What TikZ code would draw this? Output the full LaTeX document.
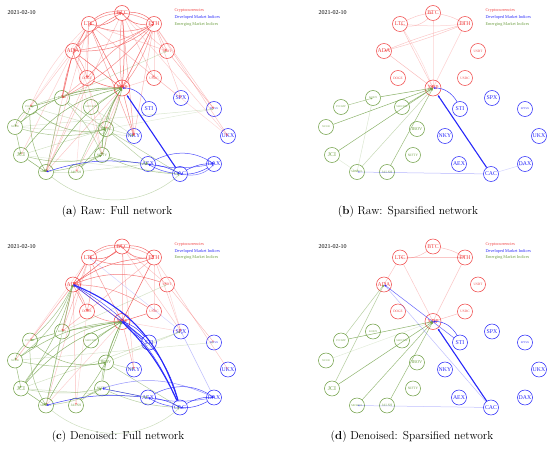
\documentclass[tikz,border=0pt]{standalone}
\usepackage{fontspec}
\newfontfamily\labf{Liberation Serif}
\usetikzlibrary{arrows.meta}
\definecolor{cred}{RGB}{240,70,70}
\definecolor{cblue}{RGB}{40,40,250}
\definecolor{cgreen}{RGB}{112,160,70}
\tikzset{
 nd/.style={circle,draw,minimum size=15pt,inner sep=0pt,line width=0.55pt},
 cr/.style={nd,draw=cred,text=cred},
 dm/.style={nd,draw=cblue,text=cblue},
 em/.style={nd,draw=cgreen,text=cgreen},
 fA/.style={font=\labf\fontsize{5.8}{6}\selectfont},
 fB/.style={font=\labf\fontsize{4.4}{5}\selectfont},
 fC/.style={font=\labf\fontsize{3.4}{4}\selectfont},
 fD/.style={font=\labf\fontsize{2.7}{3}\selectfont},
 ebase/.style={-{Latex[length=2.4pt,width=2.2pt]},line width=0.5pt},
 er/.style={ebase,color=cred,opacity=#1},
 eg/.style={ebase,color=cgreen,opacity=#1},
 eb/.style={ebase,color=cblue,opacity=#1},
 heavy/.style={line width=1.1pt},
 legend/.style={anchor=west,font=\labf\fontsize{4.3}{5}\selectfont},
 caption/.style={font=\fontsize{11.5}{13}\selectfont},
}
\newcommand\mknodes{%
\node[cr,fA] (BTC) at (122,13) {BTC};
\node[cr,fA] (LTC) at (89,24) {LTC};
\node[cr,fA] (ETH) at (154,24) {ETH};
\node[cr,fA] (ADA) at (73,51) {ADA};
\node[cr,fC] (USDT) at (167,51) {USDT};
\node[cr,fC] (DOGE) at (87,78) {DOGE};
\node[cr,fC] (USDC) at (154,78) {USDC};
\node[cr,fA,minimum size=16pt] (XRP) at (122,88) {XRP};
\node[dm,fA] (SPX) at (181,98) {SPX};
\node[dm,fA] (STI) at (149,109) {STI};
\node[dm,fD] (SPTSX) at (214,109) {SPTSX};
\node[dm,fA] (NKY) at (134,136) {NKY};
\node[dm,fA] (UKX) at (228,136) {UKX};
\node[dm,fA] (AEX) at (148,164) {AEX};
\node[dm,fA] (DAX) at (214,164) {DAX};
\node[dm,fA] (CAC) at (180,174) {CAC};
\node[em,fD] (KOSPI) at (62,98) {KOSPI};
\node[em,fD] (PCOMP) at (30,107) {PCOMP};
\node[em,fD] (SHCOMP) at (91,107) {SHCOMP};
\node[em,fD] (XU100) at (15,127) {XU100};
\node[em,fB] (IBOV) at (106,129) {IBOV};
\node[em,fA] (JCI) at (21,155) {JCI};
\node[em,fC] (NIFTY) at (102,155) {NIFTY};
\node[em,fD] (MEXBOL) at (46,172) {MEXBOL};
\node[em,fC] (JALSH) at (76,172) {JALSH};
\node[anchor=west,font=\labf\fontsize{6}{7}\selectfont] (date) at (4,13) {2021-02-10};
\node[legend,text=cred] (lg1) at (171,11) {Cryptocurrencies};
\node[legend,text=cblue] (lg2) at (171,17.5) {Developed Market Indices};
\node[legend,text=cgreen] (lg3) at (171,24) {Emerging Market Indices};
}
\begin{document}
\begin{tikzpicture}[x=1pt,y=-1pt]
\useasboundingbox (0,0) rectangle (550,458);
%%%%%%%%%%%%%%%% (a)
\begin{scope}[name prefix=a-]
\mknodes
\foreach \s/\t/\b/\o in {BTC/LTC/25/.8, LTC/BTC/25/.8, BTC/ETH/25/.8, ETH/BTC/25/.8, LTC/ETH/-20/.7, ETH/LTC/-30/.6,
 LTC/ADA/0/.5, ADA/BTC/10/.7, ADA/ETH/-20/.7, ETH/ADA/10/.6, ADA/LTC/-20/.5, DOGE/ADA/10/.6, ADA/DOGE/10/.5,
 ADA/XRP/0/.8, DOGE/XRP/-10/.8, LTC/XRP/0/.8, BTC/XRP/5/.9, BTC/XRP/-5/.6, ETH/XRP/0/.8, ETH/XRP/10/.6,
 LTC/DOGE/0/.5, ETH/DOGE/-10/.6, ADA/KOSPI/0/.8, LTC/KOSPI/-10/.7, ETH/KOSPI/10/.6, DOGE/KOSPI/0/.5,
 LTC/NKY/0/.5, BTC/NKY/0/.5, XRP/NKY/0/.6, ETH/NKY/0/.35,
 ADA/PCOMP/0/.3, LTC/PCOMP/-10/.25, LTC/XU100/0/.15, ADA/JCI/0/.25, LTC/MEXBOL/0/.3, BTC/MEXBOL/0/.3, XRP/MEXBOL/0/.3, DOGE/MEXBOL/0/.3, ADA/MEXBOL/0/.25,
 USDT/SPTSX/0/.4, ETH/SPTSX/0/.3, ETH/UKX/0/.3, BTC/UKX/0/.25, LTC/UKX/0/.2, ETH/USDT/0/.4, BTC/USDT/0/.3, LTC/USDT/0/.3, BTC/USDC/0/.3, ETH/USDC/0/.3,
 XRP/IBOV/0/.3, XRP/NIFTY/0/.3, XRP/JALSH/0/.3, ETH/SPX/0/.3, LTC/SPX/0/.2, DOGE/NIFTY/0/.25, ADA/NIFTY/0/.2, ADA/IBOV/0/.2, USDC/XRP/0/.3, LTC/JALSH/0/.2}
 {\draw[er=\o] (\s) to[bend left=\b] (\t);}
\foreach \s/\t/\b/\o in {KOSPI/XRP/5/.8, SHCOMP/XRP/0/.5, PCOMP/XRP/10/.4, XU100/XRP/20/.8, JCI/XRP/20/.8, MEXBOL/XRP/15/.8, NIFTY/XRP/15/.8, IBOV/XRP/10/.7, JALSH/XRP/-15/.7, JALSH/XRP/5/.5,
 KOSPI/PCOMP/0/.8, PCOMP/XU100/-15/.7, XU100/PCOMP/-15/.6, XU100/JCI/0/.7, JCI/MEXBOL/0/.8, PCOMP/MEXBOL/-15/.7, KOSPI/MEXBOL/0/.6, PCOMP/IBOV/-25/.7, XU100/IBOV/-15/.6, KOSPI/NIFTY/10/.5, JCI/NIFTY/-15/.6, NIFTY/IBOV/10/.7, IBOV/NIFTY/10/.6, MEXBOL/NIFTY/-10/.6, JALSH/NIFTY/10/.5, NIFTY/AEX/-5/.6, NIFTY/CAC/-10/.6, IBOV/CAC/0/.5, IBOV/AEX/0/.5, MEXBOL/CAC/-40/.4,
 KOSPI/IBOV/0/.5, SHCOMP/NKY/0/.3, XU100/SPTSX/0/.25, IBOV/SPTSX/0/.2, KOSPI/USDT/0/.3, PCOMP/NKY/0/.3, JCI/IBOV/0/.3, JCI/CAC/0/.2, JALSH/AEX/0/.3, XU100/NKY/0/.25, MEXBOL/JALSH/0/.3}
 {\draw[eg=\o] (\s) to[bend left=\b] (\t);}
\foreach \s/\t/\b/\o in {STI/XRP/-30/.9, AEX/MEXBOL/-12/.9, AEX/CAC/10/.9, CAC/AEX/10/.8, AEX/DAX/30/.8, DAX/AEX/10/.7, CAC/DAX/15/.9, DAX/CAC/15/.9, CAC/DAX/-25/.6}
 {\draw[eb=\o] (\s) to[bend left=\b] (\t);}
\draw[eb=1,heavy] (CAC) -- (XRP);
\node[caption] (capa) at (117,212) {(\textbf{a}) Raw: Full network};
\end{scope}
%%%%%%%%%%%%%%%% (b)
\begin{scope}[shift={(311,0)},name prefix=b-]
\mknodes
\foreach \s/\t/\b/\o in {BTC/LTC/30/.3, LTC/BTC/10/.3, BTC/ETH/10/.3, LTC/ETH/-5/.25, ETH/ADA/3/.3, ETH/ADA/-3/.3, LTC/XRP/0/.3, LTC/XRP/5/.2, BTC/XRP/0/.25, ETH/XRP/0/.25, ADA/XRP/0/.35}
 {\draw[er=\o] (\s) to[bend left=\b] (\t);}
\foreach \s/\t/\b/\o in {PCOMP/KOSPI/0/.6, KOSPI/XRP/0/.8, SHCOMP/XRP/0/.7, XU100/XRP/0/.8, JCI/XRP/0/.8, MEXBOL/XRP/0/.4, JALSH/XRP/0/.7, KOSPI/MEXBOL/0/.25, JCI/MEXBOL/0/.2}
 {\draw[eg=\o] (\s) to[bend left=\b] (\t);}
\foreach \s/\t/\b/\o in {STI/XRP/-30/.9, CAC/MEXBOL/0/.35, CAC/DAX/0/.2}
 {\draw[eb=\o] (\s) to[bend left=\b] (\t);}
\draw[eb=1,heavy] (CAC) -- (XRP);
\node[caption] (capb) at (97,212) {(\textbf{b}) Raw: Sparsified network};
\end{scope}
%%%%%%%%%%%%%%%% (c)
\begin{scope}[shift={(0,233.5)},name prefix=c-]
\mknodes
\foreach \s/\t/\b/\o in {BTC/LTC/25/.8, LTC/BTC/25/.7, BTC/ETH/25/.8, ETH/BTC/25/.7, LTC/ETH/-20/.7, ETH/LTC/-30/.5, BTC/ADA/0/.8, LTC/ADA/0/.8, ETH/ADA/-15/.8, USDT/ADA/-20/.7, USDC/ADA/-15/.6, DOGE/ADA/0/.6, ADA/DOGE/10/.5, LTC/DOGE/10/.5, ETH/XRP/0/.8, USDC/XRP/0/.8, DOGE/XRP/-15/.6, ADA/XRP/0/.6, LTC/XRP/0/.5, BTC/XRP/0/.4, ETH/DOGE/0/.4, LTC/KOSPI/0/.4, ADA/KOSPI/0/.4, ADA/PCOMP/0/.3, DOGE/KOSPI/0/.4, ADA/JALSH/0/.35, LTC/MEXBOL/0/.3, XRP/NKY/0/.4, BTC/NKY/0/.3, USDT/SPTSX/0/.35, ETH/UKX/0/.3, BTC/SPX/0/.3, ETH/SPX/0/.3, BTC/USDT/0/.3, ETH/USDC/0/.3, XRP/SPX/0/.25, LTC/XU100/0/.2, ADA/XU100/0/.25, XRP/MEXBOL/0/.25, USDT/SPX/0/.2, DOGE/JALSH/0/.2}
 {\draw[er=\o] (\s) to[bend left=\b] (\t);}
\foreach \s/\t/\b/\o in {JCI/ADA/-10/.7, PCOMP/ADA/-10/.6, XU100/ADA/-15/.6, KOSPI/ADA/0/.5, MEXBOL/ADA/0/.4, KOSPI/XRP/0/.8, SHCOMP/XRP/0/.6, XU100/XRP/15/.7, JCI/XRP/15/.8, JCI/XRP/25/.6, MEXBOL/XRP/15/.8, NIFTY/XRP/10/.7, IBOV/XRP/5/.7, JALSH/XRP/-10/.7, KOSPI/PCOMP/0/.8, PCOMP/XU100/-15/.7, XU100/JCI/0/.7, JCI/MEXBOL/0/.8, PCOMP/MEXBOL/-15/.6, KOSPI/MEXBOL/0/.6, PCOMP/IBOV/-25/.7, XU100/IBOV/-10/.6, JCI/NIFTY/-10/.5, NIFTY/IBOV/10/.6, MEXBOL/NIFTY/-10/.5, JALSH/NIFTY/10/.5, NIFTY/AEX/0/.5, NIFTY/CAC/-10/.5, IBOV/CAC/0/.5, IBOV/NKY/0/.4, MEXBOL/CAC/-40/.35, JCI/SPX/0/.3, XU100/SPTSX/0/.25, KOSPI/USDT/0/.3, IBOV/SPX/0/.3, JCI/AEX/0/.3}
 {\draw[eg=\o] (\s) to[bend left=\b] (\t);}
\foreach \s/\t/\b/\o in {CAC/ADA/-18/.8, STI/ADA/0/.9, STI/XRP/-15/.9, STI/XRP/10/.8, CAC/XRP/-20/.9, AEX/MEXBOL/-10/.9, AEX/NIFTY/0/.8, AEX/CAC/10/.9, CAC/AEX/10/.8, AEX/DAX/30/.8, DAX/AEX/10/.6, CAC/DAX/15/.9, DAX/CAC/15/.9, DAX/SPX/0/.3, SPX/LTC/0/.2, DAX/NIFTY/-20/.5}
 {\draw[eb=\o] (\s) to[bend left=\b] (\t);}
\draw[eb=1,heavy] (CAC) to[bend left=-25] (ADA);
\draw[eb=1,heavy] (CAC) to[bend left=-10] (XRP);
\node[caption] (capc) at (118,203.5) {(\textbf{c}) Denoised: Full network};
\end{scope}
%%%%%%%%%%%%%%%% (d)
\begin{scope}[shift={(311,233.5)},name prefix=d-]
\mknodes
\foreach \s/\t/\b/\o in {BTC/LTC/20/.35, LTC/ETH/0/.3, BTC/ETH/10/.35, LTC/ADA/0/.3, LTC/XRP/0/.3, ETH/XRP/0/.3, USDC/XRP/0/.35}
 {\draw[er=\o] (\s) to[bend left=\b] (\t);}
\foreach \s/\t/\b/\o in {PCOMP/ADA/0/.5, JCI/ADA/0/.5, PCOMP/XRP/0/.8, XU100/XRP/0/.2, JCI/XRP/0/.8, MEXBOL/XRP/0/.7, JALSH/XRP/0/.7}
 {\draw[eg=\o] (\s) to[bend left=\b] (\t);}
\foreach \s/\t/\b/\o in {STI/ADA/0/.7, STI/XRP/-30/.9, CAC/ADA/0/.3, CAC/MEXBOL/0/.3}
 {\draw[eb=\o] (\s) to[bend left=\b] (\t);}
\draw[eb=1,heavy] (CAC) -- (XRP);
\node[caption] (capd) at (101,203.5) {(\textbf{d}) Denoised: Sparsified network};
\end{scope}
\end{tikzpicture}
\end{document}
